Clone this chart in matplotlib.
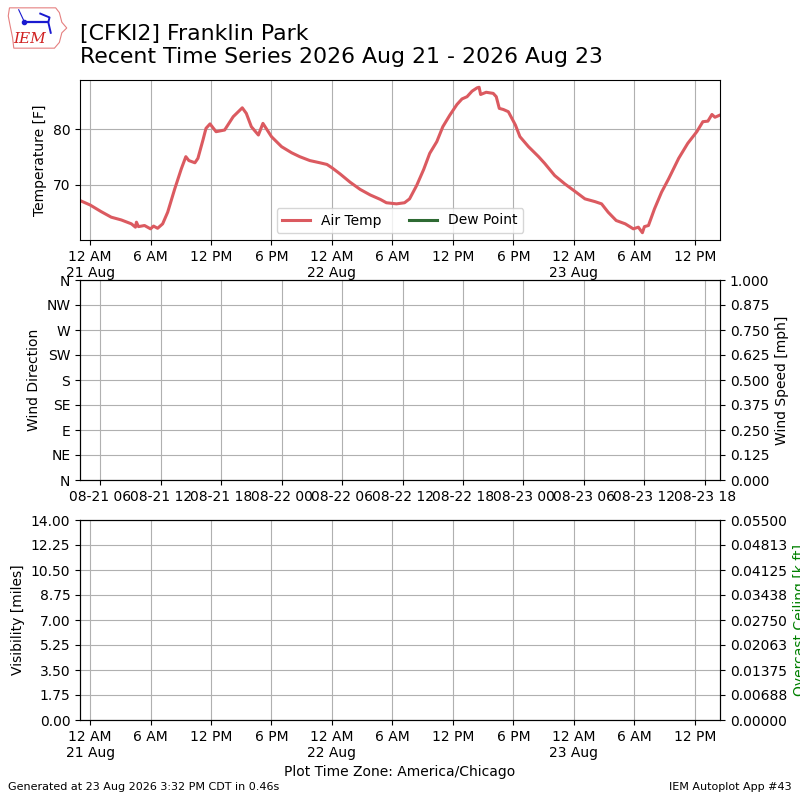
import matplotlib
matplotlib.use("Agg")
import matplotlib.pyplot as plt
import matplotlib.dates as mdates
from matplotlib.patches import Polygon
from matplotlib.ticker import FuncFormatter
from datetime import datetime, timedelta, timezone
import numpy as np

CDT = timezone(timedelta(hours=-5))
UTC = timezone.utc
START = datetime(2026, 8, 20, 23, 0, tzinfo=CDT)
END_HOURS = 63.5

# temperature trace (hours after START, deg F)
hours = [0.0, 1.0, 2.1, 3.1, 4.1, 5.1, 5.5, 5.6, 5.8, 6.4, 7.0, 7.3, 7.7, 8.2,
         8.7, 9.4, 10.05, 10.5, 10.8, 11.4, 11.7, 12.2, 12.5, 12.9, 13.5, 14.35,
         15.2, 16.1, 16.5, 17.0, 17.7, 18.15, 19.0, 20.0, 21.0, 21.8, 22.8, 23.8,
         24.5, 25.0, 25.8, 26.8, 27.8, 28.8, 29.8, 30.4, 31.4, 32.2, 32.7, 33.4,
         34.1, 34.7, 35.4, 36.0, 36.7, 37.4, 37.9, 38.4, 38.9, 39.4, 39.6, 39.75,
         40.3, 41.0, 41.3, 41.6, 42.0, 42.5, 43.2, 43.65, 44.5, 45.5, 46.1, 47.1,
         48.1, 49.0, 50.1, 51.1, 51.75, 52.4, 53.2, 54.1, 54.9, 55.4, 55.8, 56.0,
         56.4, 57.0, 57.7, 58.4, 59.4, 60.3, 61.2, 61.8, 62.3, 62.7, 63.0, 63.5]
air_temp = [67.2, 66.4, 65.2, 64.2, 63.7, 63.0, 62.4, 63.3, 62.5, 62.7, 62.1, 62.6,
            62.2, 63.0, 65.1, 69.3, 72.9, 75.1, 74.4, 74.0, 74.8, 78.1, 80.2, 81.0,
            79.6, 79.9, 82.3, 83.9, 82.9, 80.5, 79.0, 81.1, 78.7, 76.9, 75.8, 75.1,
            74.4, 74.0, 73.7, 73.1, 72.0, 70.5, 69.2, 68.2, 67.4, 66.8, 66.6, 66.8,
            67.5, 69.9, 72.8, 75.7, 77.8, 80.5, 82.6, 84.5, 85.5, 85.9, 86.9, 87.5,
            87.6, 86.3, 86.7, 86.5, 85.9, 83.8, 83.6, 83.2, 80.8, 78.7, 76.9, 75.1,
            73.9, 71.7, 70.2, 69.0, 67.5, 67.0, 66.6, 65.1, 63.6, 63.0, 62.1, 62.4,
            61.4, 62.5, 62.7, 65.7, 68.7, 71.1, 74.8, 77.5, 79.6, 81.4, 81.5, 82.7,
            82.2, 82.6]
dew_point = []  # no dew point reported

compass = ["N", "NE", "E", "SE", "S", "SW", "W", "NW", "N"]
wind_dir_ticks = [0, 45, 90, 135, 180, 225, 270, 315, 360]
vis_max = 14.0
ceil_max = 0.055
speed_max = 1.0

C_TEMP = "#db5a60"
C_DEW = "#2e6a33"

times = [START + timedelta(hours=h) for h in hours]
x0, x1 = START, START + timedelta(hours=END_HOURS)


def local_fmt(x, pos=None):
    dt = mdates.num2date(x, tz=CDT)
    s = dt.strftime("%-I %p")
    if dt.hour == 0:
        s += "\n" + dt.strftime("%-d %b")
    return s


def local_axis(ax):
    ax.xaxis.set_major_locator(mdates.HourLocator(byhour=[0, 6, 12, 18], tz=CDT))
    ax.xaxis.set_major_formatter(FuncFormatter(local_fmt))
    ax.set_xlim(x0, x1)
    ax.grid(True)


fig = plt.figure(figsize=(8, 8), dpi=100)

# ── title + logo
fig.text(0.1, 0.916, "[CFKI2] Franklin Park\nRecent Time Series 2026 Aug 21 - 2026 Aug 23",
         fontsize=15.8, ha="left", va="bottom", linespacing=1.2)
lax = fig.add_axes([0.008, 0.935, 0.077, 0.06])
lax.set_xlim(0, 1)
lax.set_ylim(0, 1)
lax.axis("off")
lax.add_patch(Polygon([[0.05, 0.92], [0.8, 0.92], [0.86, 0.82], [0.9, 0.62],
                       [0.98, 0.5], [0.9, 0.4], [0.86, 0.2], [0.78, 0.08],
                       [0.12, 0.08], [0.1, 0.3], [0.06, 0.55], [0.03, 0.75]],
                      closed=True, fill=False, ec="#e58080", lw=0.8))
lax.plot([0.28, 0.68], [0.62, 0.62], color="#1a1ad0", lw=1.6)
lax.plot([0.28], [0.62], "o", color="#1a1ad0", ms=3)
lax.plot([0.55, 0.7, 0.68, 0.72], [0.8, 0.72, 0.62, 0.4], color="#1a1ad0", lw=1.4)
lax.plot([0.2, 0.28], [0.88, 0.66], color="#1a1ad0", lw=0.8)
lax.text(0.38, 0.28, "IEM", color="#d02020", fontsize=11, style="italic",
         family="serif", ha="center", va="center")

# ── temperature
ax1 = fig.add_axes([0.1, 0.7, 0.8, 0.2])
ax1.plot(times, air_temp, color=C_TEMP, lw=2.2, label="Air Temp")
ax1.plot(times[:len(dew_point)], dew_point, color=C_DEW, lw=2.2, label="Dew Point")
ax1.set_ylabel("Temperature [F]")
local_axis(ax1)
ax1.legend(loc="lower center", ncol=2)

# ── wind (x labels left in UTC, like the original)
ax2 = fig.add_axes([0.1, 0.4, 0.8, 0.25])
ax2.set_xlim(x0, x1)
utc_loc = mdates.AutoDateLocator(tz=UTC)
ax2.xaxis.set_major_locator(utc_loc)
ax2.xaxis.set_major_formatter(mdates.AutoDateFormatter(utc_loc, tz=UTC))
ax2.set_ylim(0, 360)
ax2.set_yticks(wind_dir_ticks)
ax2.set_yticklabels(compass)
ax2.set_ylabel("Wind Direction")
ax2.grid(True)
ax2b = ax2.twinx()
ax2b.set_ylim(0, speed_max)
ax2b.set_yticks(np.linspace(0, speed_max, 9))
ax2b.set_yticklabels([f"{v:.3f}" for v in np.linspace(0, speed_max, 9)])
ax2b.set_ylabel("Wind Speed [mph]")

# ── visibility / ceiling
ax3 = fig.add_axes([0.1, 0.1, 0.8, 0.25])
ax3.set_ylim(0, vis_max)
ax3.set_yticks(np.linspace(0, vis_max, 9))
ax3.set_yticklabels([f"{v:.2f}" for v in np.linspace(0, vis_max, 9)])
ax3.set_ylabel("Visibility [miles]")
local_axis(ax3)
ax3.set_xlabel("Plot Time Zone: America/Chicago")
ax3b = ax3.twinx()
ax3b.set_ylim(0, ceil_max)
ceil_ticks = np.linspace(0, ceil_max, 9)
ax3b.set_yticks(ceil_ticks)
ax3b.set_yticklabels([f"{round(v + 1e-12, 5):.5f}" for v in ceil_ticks])
ax3b.set_ylabel("Overcast Ceiling [k ft]", color="green")

fig.text(0.01, 0.012, "Generated at 23 Aug 2026 3:32 PM CDT in 0.46s", fontsize=8)
fig.text(0.99, 0.012, "IEM Autoplot App #43", fontsize=8, ha="right")

fig.savefig("out.png", dpi=100)
